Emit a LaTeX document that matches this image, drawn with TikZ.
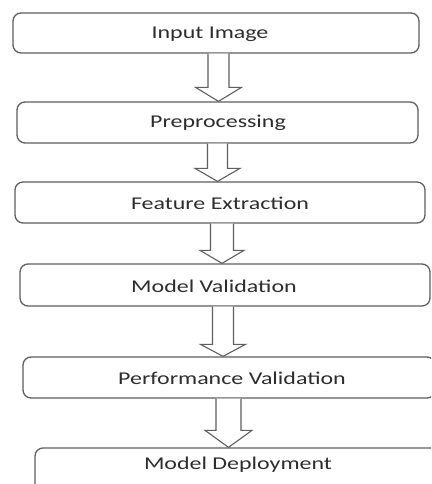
\documentclass[tikz,border=0pt]{standalone}
\usepackage{fontspec}
\usetikzlibrary{calc}
\newfontfamily\boxfont[FakeStretch=1.33]{Carlito}
\definecolor{edge}{RGB}{95,95,95}
\definecolor{txt}{RGB}{45,45,45}
\tikzset{
  box/.style={draw=edge, line width=1.3pt, rounded corners=8pt, fill=white, inner sep=0pt},
  lbl/.style={text=txt, font=\boxfont\fontsize{18pt}{20pt}\selectfont, inner sep=0pt},
  barrow/.style={draw=edge, line width=1.1pt, fill=white, line join=miter}
}
% #1 from, #2 to, #3 centre x, #4 shaft half width, #5 head half width, #6 head length
\newcommand\blkarrow[6]{%
  \path (#1.south) coordinate (tmpA) (#2.north) coordinate (tmpB);
  \draw[barrow] let \p1=(tmpA), \p2=(tmpB) in
    (#3pt-#4pt,\y1) -- (#3pt-#4pt,\y2+#6pt) -- (#3pt-#5pt,\y2+#6pt) -- (#3pt,\y2)
    -- (#3pt+#5pt,\y2+#6pt) -- (#3pt+#4pt,\y2+#6pt) -- (#3pt+#4pt,\y1);
}
\begin{document}
\begin{tikzpicture}[x=1pt,y=-1pt]
\useasboundingbox (0,0) rectangle (431,484);
\clip (0,0) rectangle (431,484);
\fill[white] (0,0) rectangle (431,484);
% boxes (drawn as nodes)
\node[box, minimum width=406pt, minimum height=40pt] (b1) at (216,33) {};
\node[box, minimum width=401pt, minimum height=41pt] (b2) at (217.5,122.5) {};
\node[box, minimum width=410pt, minimum height=41pt] (b3) at (220,202.5) {};
\node[box, minimum width=410pt, minimum height=42pt] (b4) at (225,285) {};
\node[box, minimum width=412pt, minimum height=41pt] (b5) at (229,377.5) {};
\node[box, minimum width=425pt, minimum height=60pt] (b6) at (247.5,478) {};
% labels
\node[lbl] at (210,34) {Input Image};
\node[lbl] at (218,123) {Preprocessing};
\node[lbl] at (220,203) {Feature Extraction};
\node[lbl] at (214,286) {Model Validation};
\node[lbl] at (232,378) {Performance Validation};
\node[lbl] at (238,465) {Model Deployment};
% block arrows
\blkarrow{b1}{b2}{218.5}{10.5}{23}{14}
\blkarrow{b2}{b3}{217.5}{10}{22.5}{13}
\blkarrow{b3}{b4}{222}{11.5}{22}{13}
\blkarrow{b4}{b5}{223}{10.5}{22.5}{12}
\blkarrow{b5}{b6}{228.5}{12.5}{23.5}{17}
\end{tikzpicture}
\end{document}
